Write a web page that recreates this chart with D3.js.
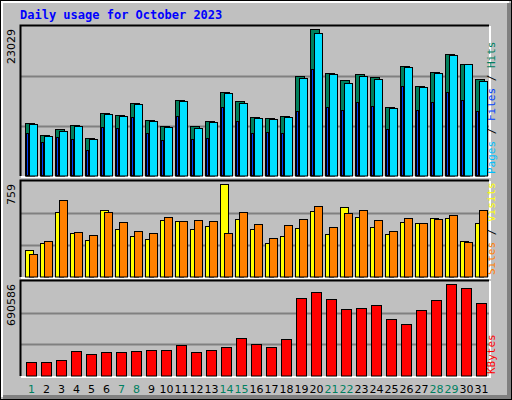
<!DOCTYPE html>
<html><head><meta charset="utf-8">
<script src="https://cdn.jsdelivr.net/npm/d3@7"></script>
<style>body{margin:0;background:#fff}svg{display:block}</style>
</head><body><svg id="chart" width="512" height="400"></svg>
<script>
'use strict';
const days = d3.range(1, 32);
const weekends = [1, 7, 8, 14, 15, 21, 22, 28, 29];
const hits = [8256,6376,7316,7943,5906,9823,9509,11389,8726,7786,11906,7786,8569,13112,11703,9196,
	9039,9353,15619,23029,16089,14992,15932,15462,10763,17186,14052,16246,19066,17499,15149];
const files = [8099,6219,7003,7786,5749,9666,9353,11233,8569,7629,11703,7473,8413,12956,11389,9039,
	8883,9196,15306,22356,15932,14523,15619,15149,10606,17029,13896,16089,18909,17499,14836];
const pages = [6689,5279,6110,5796,4073,7676,7520,9243,6736,5640,9400,5796,5953,10810,8616,6736,
	6893,6736,10183,16763,10810,10340,11593,10966,7363,14099,10340,11593,13159,11906,10183];
const visits = [219,276,530,358,301,549,391,333,309,464,456,391,415,759,473,391,
	276,333,399,538,350,571,489,407,350,448,440,481,481,292,440];
const sites = [186,292,628,366,342,530,448,374,358,489,456,464,456,358,530,432,
	317,423,473,579,407,522,546,464,374,481,440,473,505,284,546];
const kbytes = [103175,103175,118237,186016,163423,178485,178485,186016,193547,193547,231202,178485,193547,216140,283919,238733,
	216140,276388,585159,630345,577628,502318,509849,532442,427008,389353,494787,570097,690586,660469,547504];

const svg = d3.select('#chart');
const W = 512, H = 400;
const px = 21, pw = 468; // plot x / width

// outer frame
svg.append('rect').attr('width', W).attr('height', H).attr('fill', '#c0c0c0');
svg.append('rect').attr('x', 0.5).attr('y', 0.5).attr('width', W - 1).attr('height', H - 1)
	.attr('fill', 'none').attr('stroke', '#000');
svg.append('path').attr('d', `M2,${H-3}V2H${W-3}`).attr('stroke', '#fff').attr('stroke-width', 2).attr('fill', 'none');
svg.append('path').attr('d', `M3,${H-3}H${W-3}V3`).attr('stroke', '#808080').attr('stroke-width', 4).attr('fill', 'none');

svg.append('text').attr('x', 20).attr('y', 19)
	.style('font', 'bold 12px "DejaVu Sans Mono", monospace').attr('fill', '#0000ff')
	.text('Daily usage for October 2023');

const x = d3.scaleBand().domain(days).range([px + 3, px + 3 + 15 * 31]).padding(0);

function panel(top, bottom, maxLabel, labels) {
	const g = svg.append('g');
	g.append('rect').attr('x', px).attr('y', top).attr('width', pw).attr('height', bottom - top).attr('fill', '#c0c0c0');
	[1 / 3, 2 / 3].forEach(f => {
		const yy = Math.round(top + (bottom - top) * f) + 0.5;
		g.append('line').attr('x1', px).attr('x2', px + pw).attr('y1', yy).attr('y2', yy)
			.attr('stroke', '#808080').attr('stroke-width', 2);
	});
	g.append('path').attr('d', `M${px-0.5},${bottom}V${top-0.5}H${px+pw}`).attr('stroke', '#000').attr('fill', 'none').attr('stroke-width', 2);
	g.append('path').attr('d', `M${px},${bottom+1}H${px+pw+1}V${top}`).attr('stroke', '#fff').attr('fill', 'none').attr('stroke-width', 2);
	g.append('text').attr('transform', `translate(15,${top + 3}) rotate(-90)`)
		.attr('text-anchor', 'end').style('font', '11px "DejaVu Sans", sans-serif').text(maxLabel);
	const t = g.append('text').attr('transform', `translate(495,${bottom - 2}) rotate(-90)`)
		.style('font', '11px "DejaVu Sans Mono", monospace');
	labels.forEach(([s, c]) => t.append('tspan').attr('fill', c).text(s));
	return g;
}

function bars(g, data, y, off, w, fill) {
	g.selectAll(null).data(data).join('rect')
		.attr('x', (d, i) => x(days[i]) + off + 0.5)
		.attr('y', d => Math.round(y(d)) + 0.5)
		.attr('width', w)
		.attr('height', d => y(0) - Math.round(y(d)) - 0.5)
		.attr('fill', fill).attr('stroke', '#000');
}

// panel 1: hits / files / pages
const p1 = panel(26, 176, '23029', [['Pages', '#00c0ff'], [' / ', '#000'], ['Files', '#0040ff'], [' / ', '#000'], ['Hits', '#008060']]);
const y1 = d3.scaleLinear().domain([0, 23029]).range([176, 29]);
bars(p1, hits, y1, 1, 9, '#00805c');
bars(p1, files, y1, 5, 8, '#00e0ff');
bars(p1, pages, y1, 2, 2, '#0040ff');

// panel 2: visits / sites
const p2 = panel(181, 277, '759', [['Sites', '#ff8000'], [' / ', '#000'], ['Visits', '#ffff00']]);
const y2 = d3.scaleLinear().domain([0, 759]).range([277, 184]);
bars(p2, visits, y2, 1, 8, '#ffff00');
bars(p2, sites, y2, 5, 8, '#ff8000');

// panel 3: kbytes
const p3 = panel(281, 376, '690586', [['KBytes', '#ff0000']]);
const y3 = d3.scaleLinear().domain([0, 690586]).range([376, 284]);
bars(p3, kbytes, y3, 2, 10, '#ff0000');

// day labels
svg.append('g').selectAll('text').data(days).join('text')
	.attr('x', d => x(d) + 7.5).attr('y', 393).attr('text-anchor', 'middle')
	.style('font', '11px "DejaVu Sans", sans-serif')
	.attr('fill', d => weekends.includes(d) ? '#008060' : '#000')
	.text(d => d);
</script></body></html>
